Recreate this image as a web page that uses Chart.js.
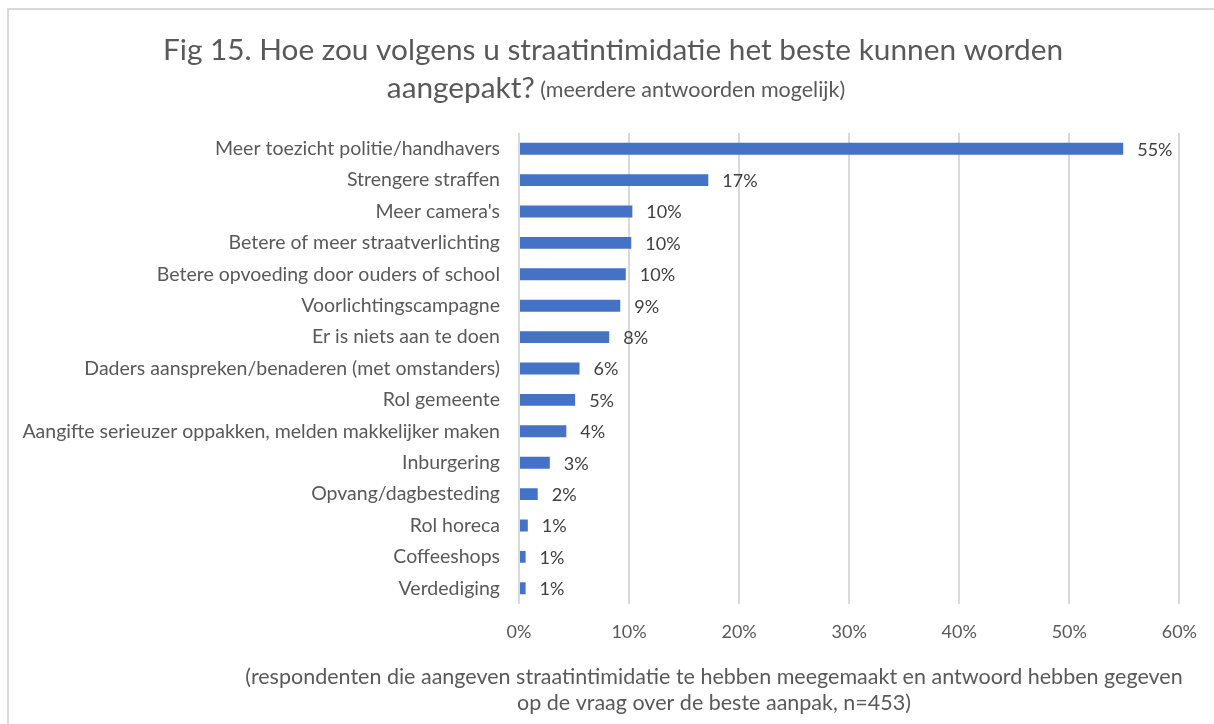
<!DOCTYPE html>
<html>
<head>
<meta charset="utf-8">
<script src="https://cdn.jsdelivr.net/npm/chart.js@4"></script>
<style>
  html, body { margin: 0; padding: 0; background: #fff; }
  #frame { position: absolute; left: 7px; top: 8px; width: 1300px; height: 800px;
           border-left: 2px solid #d9d9d9; border-top: 2px solid #d9d9d9; }
  #wrap { position: absolute; left: 0; top: 0; width: 1214px; height: 724px; }
</style>
</head>
<body>
<div id="frame"></div>
<div id="wrap"><canvas id="chart" width="1214" height="724"></canvas></div>
<script>
const categories = [
  "Meer toezicht politie/handhavers",
  "Strengere straffen",
  "Meer camera's",
  "Betere of meer straatverlichting",
  "Betere opvoeding door ouders of school",
  "Voorlichtingscampagne",
  "Er is niets aan te doen",
  "Daders aanspreken/benaderen (met omstanders)",
  "Rol gemeente",
  "Aangifte serieuzer oppakken, melden makkelijker maken",
  "Inburgering",
  "Opvang/dagbesteding",
  "Rol horeca",
  "Coffeeshops",
  "Verdediging"
];
const values = [54.9, 17.2, 10.3, 10.2, 9.7, 9.2, 8.2, 5.5, 5.1, 4.3, 2.8, 1.7, 0.8, 0.6, 0.6];
const labels = ["55%", "17%", "10%", "10%", "10%", "9%", "8%", "6%", "5%", "4%", "3%", "2%", "1%", "1%", "1%"];

const titleLine1 = "Fig 15. Hoe zou volgens u straatintimidatie het beste kunnen worden";
const titleLine2a = "aangepakt?";
const titleLine2b = " (meerdere antwoorden mogelijk)";
const footLine1 = "(respondenten die aangeven straatintimidatie te hebben meegemaakt en antwoord hebben gegeven";
const footLine2 = "op de vraag over de beste aanpak, n=453)";

const FONT = "Lato, 'Open Sans', sans-serif";

const barLabels = {
  id: "barLabels",
  afterDatasetsDraw(chart) {
    const ctx = chart.ctx;
    ctx.save();
    ctx.font = "18px " + FONT;
    ctx.fillStyle = "#404040";
    ctx.textAlign = "left";
    ctx.textBaseline = "middle";
    chart.getDatasetMeta(0).data.forEach((bar, i) => {
      ctx.fillText(labels[i], bar.x + 14, bar.y + 1);
    });
    ctx.restore();
  }
};

const texts = {
  id: "texts",
  afterDraw(chart) {
    const ctx = chart.ctx;
    ctx.save();
    ctx.fillStyle = "#595959";
    ctx.textBaseline = "middle";
    ctx.textAlign = "center";
    ctx.font = "29.8px " + FONT;
    ctx.fillText(titleLine1, 613, 50);
    // second line mixes two sizes
    ctx.textAlign = "left";
    const bigFont = "29.8px " + FONT, smallFont = "21.5px " + FONT;
    ctx.font = bigFont;
    const wa = ctx.measureText(titleLine2a).width;
    ctx.font = smallFont;
    const wb = ctx.measureText(titleLine2b).width;
    let x = 616 - (wa + wb) / 2;
    ctx.font = bigFont;
    ctx.fillText(titleLine2a, x, 88);
    ctx.font = smallFont;
    ctx.fillText(titleLine2b, x + wa, 90);
    ctx.textAlign = "center";
    ctx.font = "21.5px " + FONT;
    ctx.fillText(footLine1, 714, 677);
    ctx.fillText(footLine2, 714, 703);
    ctx.restore();
  }
};

new Chart(document.getElementById("chart"), {
  type: "bar",
  data: {
    labels: categories,
    datasets: [{
      data: values,
      backgroundColor: "#4472C4",
      barPercentage: 0.38,
      categoryPercentage: 1
    }]
  },
  options: {
    indexAxis: "y",
    responsive: false,
    animation: false,
    layout: { padding: { top: 133, left: 0, right: 33, bottom: 80 } },
    plugins: { legend: { display: false }, tooltip: { enabled: false } },
    scales: {
      x: {
        min: 0, max: 60,
        ticks: { stepSize: 10, callback: (v) => v + "%", color: "#595959",
                 font: { family: FONT, size: 18 }, padding: 17 },
        grid: { color: "#d9d9d9", lineWidth: 2, drawTicks: false },
        border: { display: false },
        afterFit: (s) => { s.height = 40; }
      },
      y: {
        ticks: { color: "#595959", font: { family: FONT, size: 19.5 }, padding: 19, autoSkip: false },
        grid: { display: false, drawTicks: false },
        border: { display: false },
        afterFit: (s) => { s.width = 519; }
      }
    }
  },
  plugins: [barLabels, texts]
});
</script>
</body>
</html>
